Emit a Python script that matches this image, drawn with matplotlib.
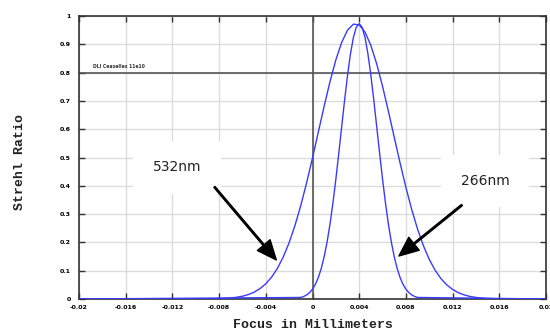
import matplotlib
matplotlib.use('Agg')
import matplotlib.pyplot as plt

# 532nm curve (wide)
x_532 = [-0.02, -0.008, -0.0075, -0.007, -0.0065, -0.006, -0.0055, -0.005, -0.0045,
         -0.004, -0.0035, -0.003, -0.0025, -0.002, -0.0015, -0.001, -0.0005, 0.0,
         0.0005, 0.001, 0.0015, 0.002, 0.0025, 0.003, 0.0035, 0.004, 0.0045, 0.005,
         0.0055, 0.006, 0.0065, 0.007, 0.0075, 0.008, 0.0085, 0.009, 0.0095, 0.010,
         0.0105, 0.011, 0.0115, 0.012, 0.0125, 0.013, 0.0135, 0.014, 0.0145, 0.015,
         0.0155, 0.016, 0.02]
y_532 = [0.0, 0.0012, 0.0021, 0.0036, 0.0061, 0.0098, 0.0156, 0.0242, 0.0365,
         0.0538, 0.0774, 0.1087, 0.1489, 0.1991, 0.2599, 0.3309, 0.4112, 0.4987,
         0.5901, 0.6816, 0.7682, 0.8450, 0.9069, 0.9500, 0.9711, 0.9687, 0.9430, 0.8959,
         0.8306, 0.7516, 0.6635, 0.5717, 0.4808, 0.3945, 0.3159, 0.2469, 0.1882, 0.1401,
         0.1018, 0.0721, 0.0499, 0.0337, 0.0222, 0.0143, 0.0089, 0.0055, 0.0033, 0.0019,
         0.0011, 0.0006, 0.0]

# 266nm curve (narrow)
x_266 = [-0.02, -0.001, -0.00075, -0.0005, -0.00025, 0.0, 0.00025, 0.0005, 0.00075,
         0.001, 0.00125, 0.0015, 0.00175, 0.002, 0.00225, 0.0025, 0.00275, 0.003,
         0.00325, 0.0035, 0.00375, 0.004, 0.00425, 0.0045, 0.00475, 0.005, 0.00525,
         0.0055, 0.00575, 0.006, 0.00625, 0.0065, 0.00675, 0.007, 0.00725, 0.0075,
         0.00775, 0.008, 0.00825, 0.0085, 0.00875, 0.009, 0.02]
y_266 = [0.0, 0.0054, 0.0089, 0.0144, 0.0227, 0.0348, 0.0521, 0.0761, 0.1080,
         0.1496, 0.2016, 0.2650, 0.3393, 0.4233, 0.5144, 0.6092, 0.7029, 0.7902,
         0.8655, 0.9237, 0.9604, 0.9730, 0.9604, 0.9237, 0.8655, 0.7902, 0.7029,
         0.6092, 0.5144, 0.4233, 0.3393, 0.2650, 0.2016, 0.1496, 0.1080, 0.0761,
         0.0521, 0.0348, 0.0227, 0.0144, 0.0089, 0.0054, 0.0]

x_ticks = [-0.02, -0.016, -0.012, -0.008, -0.004, 0, 0.004, 0.008, 0.012, 0.016, 0.02]
x_labels = ['-0.02', '-0.016', '-0.012', '-0.008', '-0.004', '0', '0.004', '0.008',
            '0.012', '0.016', '0.02']
y_ticks = [0, 0.1, 0.2, 0.3, 0.4, 0.5, 0.6, 0.7, 0.8, 0.9, 1.0]
y_labels = ['0', '0.1', '0.2', '0.3', '0.4', '0.5', '0.6', '0.7', '0.8', '0.9', '1']

fig = plt.figure(figsize=(5.5, 3.32), dpi=100)
ax = fig.add_axes([79 / 550, 1 - 299 / 332, 467 / 550, 283 / 332])

ax.set_xlim(-0.02, 0.02)
ax.set_ylim(0, 1)
ax.set_xticks(x_ticks)
ax.set_xticklabels(x_labels, fontsize=4.5, fontweight='bold')
ax.set_yticks(y_ticks)
ax.set_yticklabels(y_labels, fontsize=4.5, fontweight='bold')
ax.tick_params(direction='in', length=4, width=1, top=True, right=True,
               color='#333333', pad=4)
ax.tick_params(axis='y', pad=6)
ax.grid(True, color='#dcdcdc', linewidth=1)
ax.set_axisbelow(True)
for s in ax.spines.values():
    s.set_color('#333333')
    s.set_linewidth(1.2)

# reference lines
ax.axvline(0, color='#555555', linewidth=1.2, zorder=2)
ax.axhline(0.8, color='#555555', linewidth=1.2, zorder=2)

ax.plot(x_532, y_532, color='#3a3aff', linewidth=1, zorder=4)
ax.plot(x_266, y_266, color='#3a3aff', linewidth=1, zorder=4)

ax.text(-0.0188, 0.822, 'DLI Ceaselles 11e10', fontsize=3.3, fontweight='bold',
        color='#333333', va='center', ha='left', zorder=3)

# labels with arrows
box = dict(facecolor='white', edgecolor='none', pad=14)
ax.text(-0.0116, 0.466, '532nm', fontsize=10, ha='center', va='center',
        color='#222222', bbox=box, zorder=3)
ax.text(0.0148, 0.417, '266nm', fontsize=10, ha='center', va='center',
        color='#222222', bbox=box, zorder=3)
arrow = dict(facecolor='black', edgecolor='black', width=1.1, headwidth=12,
             headlength=14, shrink=0)
ax.annotate('', xy=(-0.0031, 0.138), xytext=(-0.0084, 0.396), arrowprops=arrow,
            zorder=5)
ax.annotate('', xy=(0.0074, 0.152), xytext=(0.0128, 0.332), arrowprops=arrow,
            zorder=5)

fig.text(313 / 550, 1 - 325 / 332, 'Focus in Millimeters', family='Liberation Mono',
         fontsize=9.5, fontweight='bold', ha='center', va='center', color='#222222')
fig.text(20 / 550, 1 - 162 / 332, 'Strehl Ratio', family='Liberation Mono',
         fontsize=9.5, fontweight='bold', ha='center', va='center', rotation=90,
         color='#222222')

fig.savefig('out.png', dpi=100)
